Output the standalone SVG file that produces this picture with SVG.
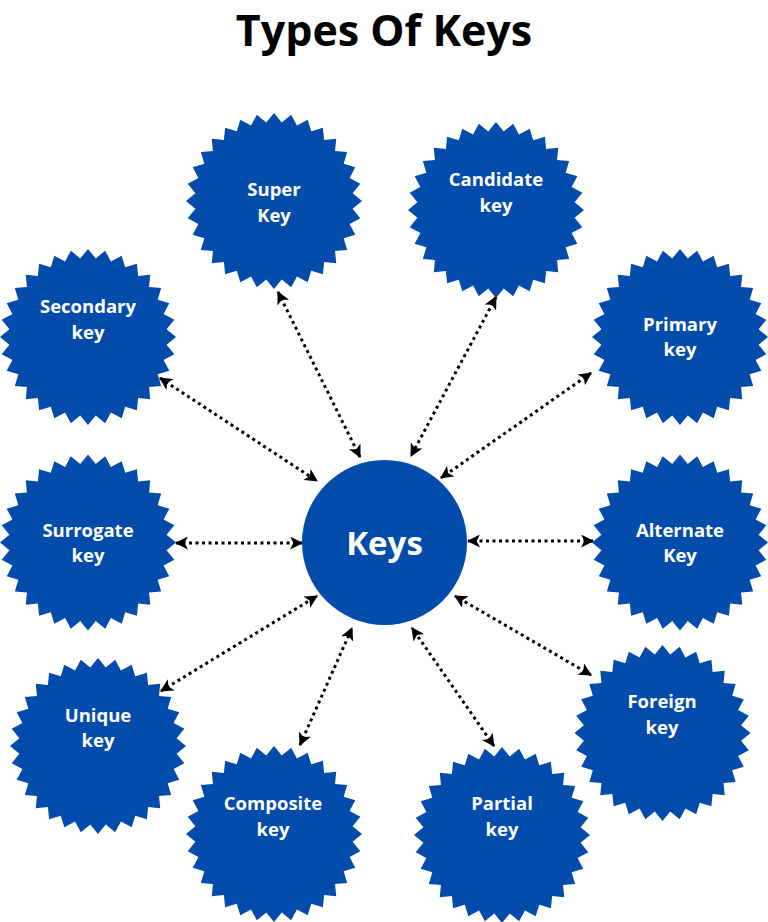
<svg xmlns="http://www.w3.org/2000/svg" xmlns:xlink="http://www.w3.org/1999/xlink" width="768" height="922" viewBox="0 0 768 922">
<style>
.burst{fill:#034CAB;}
.lbl{font-family:"Open Sans","Liberation Sans",sans-serif;font-weight:bold;font-size:18.5px;fill:#FFFFFF;text-anchor:middle;}
.title{font-family:"Open Sans","Liberation Sans",sans-serif;font-weight:bold;font-size:43px;fill:#000000;text-anchor:middle;}
.hub{font-family:"Open Sans","Liberation Sans",sans-serif;font-weight:bold;font-size:33px;fill:#FFFFFF;text-anchor:middle;}
.conn{stroke:#000000;stroke-width:3;stroke-dasharray:3 3.5;fill:none;marker-start:url(#arr);marker-end:url(#arr);}
</style>
<defs>
<marker id="arr" viewBox="0 0 12 12" refX="11" refY="6" markerWidth="13" markerHeight="13" markerUnits="userSpaceOnUse" orient="auto-start-reverse">
<path d="M0,0 L12,6 L0,12 L3,6 z" fill="#000000"/>
</marker>
<polygon id="burst" points="0,-88 7.74,-78.62 17.17,-86.31 22.93,-75.6 33.68,-81.3 37.24,-69.67 48.89,-73.17 50.12,-61.07 62.23,-62.23 61.07,-50.12 73.17,-48.89 69.67,-37.24 81.3,-33.68 75.6,-22.93 86.31,-17.17 78.62,-7.74 88,0 78.62,7.74 86.31,17.17 75.6,22.93 81.3,33.68 69.67,37.24 73.17,48.89 61.07,50.12 62.23,62.23 50.12,61.07 48.89,73.17 37.24,69.67 33.68,81.3 22.93,75.6 17.17,86.31 7.74,78.62 0,88 -7.74,78.62 -17.17,86.31 -22.93,75.6 -33.68,81.3 -37.24,69.67 -48.89,73.17 -50.12,61.07 -62.23,62.23 -61.07,50.12 -73.17,48.89 -69.67,37.24 -81.3,33.68 -75.6,22.93 -86.31,17.17 -78.62,7.74 -88,0 -78.62,-7.74 -86.31,-17.17 -75.6,-22.93 -81.3,-33.68 -69.67,-37.24 -73.17,-48.89 -61.07,-50.12 -62.23,-62.23 -50.12,-61.07 -48.89,-73.17 -37.24,-69.67 -33.68,-81.3 -22.93,-75.6 -17.17,-86.31 -7.74,-78.62"/>
</defs>
<rect width="768" height="922" fill="#FFFFFF"/>
<text class="title" x="384" y="46">Types Of Keys</text>

<g id="connectors">
<line class="conn" x1="160" y1="378" x2="317" y2="481"/>
<line class="conn" x1="278" y1="292" x2="360" y2="457"/>
<line class="conn" x1="496" y1="297" x2="411" y2="456"/>
<line class="conn" x1="591" y1="373" x2="441" y2="478"/>
<line class="conn" x1="176" y1="543" x2="302" y2="543"/>
<line class="conn" x1="593" y1="541" x2="468" y2="541"/>
<line class="conn" x1="161" y1="691" x2="317" y2="596"/>
<line class="conn" x1="300" y1="745" x2="352" y2="628"/>
<line class="conn" x1="494" y1="746" x2="412" y2="628"/>
<line class="conn" x1="591" y1="675" x2="455" y2="596"/>
</g>

<g id="keys">
<circle cx="384.5" cy="542.5" r="82.5" fill="#034CAB"/>
<text class="hub" x="384.5" y="555">Keys</text>
</g>

<g id="super-key">
<use href="#burst" class="burst" x="274" y="201"/>
<text class="lbl" x="274" y="196">Super</text>
<text class="lbl" x="274" y="222">Key</text>
</g>
<g id="candidate-key">
<use href="#burst" class="burst" x="496" y="210"/>
<text class="lbl" x="496" y="186">Candidate</text>
<text class="lbl" x="496" y="212">key</text>
</g>
<g id="secondary-key">
<use href="#burst" class="burst" x="88" y="337"/>
<text class="lbl" x="88" y="313">Secondary</text>
<text class="lbl" x="88" y="339">key</text>
</g>
<g id="primary-key">
<use href="#burst" class="burst" x="680" y="337"/>
<text class="lbl" x="680" y="331">Primary</text>
<text class="lbl" x="680" y="356">key</text>
</g>
<g id="surrogate-key">
<use href="#burst" class="burst" x="88" y="542.5"/>
<text class="lbl" x="88" y="537">Surrogate</text>
<text class="lbl" x="88" y="562">key</text>
</g>
<g id="alternate-key">
<use href="#burst" class="burst" x="680" y="542.5"/>
<text class="lbl" x="680" y="537">Alternate</text>
<text class="lbl" x="680" y="562">Key</text>
</g>
<g id="unique-key">
<use href="#burst" class="burst" x="98" y="746"/>
<text class="lbl" x="98" y="722">Unique</text>
<text class="lbl" x="98" y="747">key</text>
</g>
<g id="foreign-key">
<use href="#burst" class="burst" x="662.5" y="733"/>
<text class="lbl" x="662" y="708">Foreign</text>
<text class="lbl" x="662" y="734">key</text>
</g>
<g id="composite-key">
<use href="#burst" class="burst" x="274" y="834"/>
<text class="lbl" x="273" y="810">Composite</text>
<text class="lbl" x="273" y="836">key</text>
</g>
<g id="partial-key">
<use href="#burst" class="burst" x="502" y="835"/>
<text class="lbl" x="502" y="810">Partial</text>
<text class="lbl" x="502" y="836">key</text>
</g>
</svg>
